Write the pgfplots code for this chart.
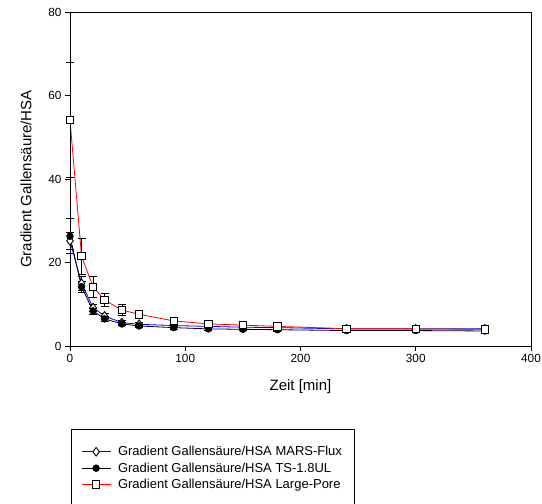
\documentclass[border=0pt]{standalone}
\usepackage{pgfplots}
\pgfplotsset{compat=1.18}
\usepackage{fontspec}
\setmainfont{Liberation Sans}

\begin{document}
\begin{tikzpicture}
\begin{axis}[
    at={(70pt,158pt)}, anchor=south west,
    scale only axis, width=461pt, height=334pt,
    xmin=0, xmax=400, ymin=0, ymax=80,
    xtick={0,100,200,300,400}, ytick={0,20,40,60,80},
    tick pos=left, tick align=outside,
    major tick length=5pt,
    axis line style={line width=0.9pt},
    every tick/.style={black, line width=0.8pt},
    /pgf/number format/assume math mode=true,
    ticklabel style={font=\fontsize{11.8}{13}\selectfont},
    xlabel={Zeit [min]}, ylabel={Gradient Gallensäure/HSA},
    label style={font=\fontsize{15}{16}\selectfont},
    xlabel style={yshift=-10pt},
    ylabel style={yshift=10pt},
    clip=false,
    legend cell align=left,
    legend style={at={(0.002,-0.2485)}, anchor=north west, draw=black, line width=0.6pt,
        font=\fontsize{13}{14}\selectfont, inner xsep=10pt, inner ysep=15pt,
        row sep=1.5pt,
        /tikz/every odd column/.append style={column sep=5pt}},
    legend image code/.code={\draw[mark repeat=2, mark phase=2, #1] plot coordinates {(0pt,0pt) (14.5pt,0pt) (29pt,0pt)};},
    error bars/error bar style={black, line width=0.7pt},
    error bars/error mark options={rotate=90, mark size=4pt, black, line width=0.7pt},
]
% legend images
\addlegendimage{color=blue, line width=0.8pt, mark=diamond*, mark size=4.3pt,
    mark options={fill=white, draw=black, line width=0.9pt}}
\addlegendentry{Gradient Gallensäure/HSA MARS-Flux}
\addlegendimage{color=black, line width=0.8pt, mark=*, mark size=3.3pt, mark options={fill=black}}
\addlegendentry{Gradient Gallensäure/HSA TS-1.8UL}
\addlegendimage{color=red, line width=0.8pt, mark=square*, mark size=3.7pt,
    mark options={fill=white, draw=black, line width=0.9pt}}
\addlegendentry{Gradient Gallensäure/HSA Large-Pore}
% MARS-Flux
\addplot[color=blue, line width=0.8pt, mark=diamond*, mark size=4.3pt,
    mark options={fill=white, draw=black, line width=0.9pt},
    forget plot,
    error bars/.cd, y dir=both, y explicit]
coordinates {
(0,25.2) +- (0,2.0)
(10,15.0) +- (0,1.6)
(20,9.2) +- (0,0.8)
(30,7.2) +- (0,0.6)
(45,5.6) +- (0,0.5)
(60,5.2) +- (0,0.4)
(90,4.9) +- (0,0.3)
(120,4.7) +- (0,0.3)
(150,4.5) +- (0,0.3)
(180,4.4) +- (0,0.3)
(240,4.1) +- (0,0.3)
(300,4.1) +- (0,0.3)
(360,4.1) +- (0,0.3)
};
% TS-1.8UL
\addplot[color=black, line width=0.8pt, mark=*, mark size=3.3pt,
    mark options={fill=black},
    forget plot,
    error bars/.cd, y dir=both, y explicit]
coordinates {
(0,26.3) +- (0,4.2)
(10,14.2) +- (0,1.4)
(20,8.4) +- (0,0.7)
(30,6.5) +- (0,0.5)
(45,5.3) +- (0,0.4)
(60,4.8) +- (0,0.3)
(90,4.4) +- (0,0.3)
(120,4.1) +- (0,0.3)
(150,4.0) +- (0,0.3)
(180,3.9) +- (0,0.3)
(240,3.7) +- (0,0.3)
(300,3.7) +- (0,0.3)
(360,3.6) +- (0,0.3)
};
% Large-Pore
\addplot[color=red, line width=0.8pt, mark=square*, mark size=3.7pt,
    mark options={fill=white, draw=black, line width=0.9pt},
    forget plot,
    error bars/.cd, y dir=both, y explicit]
coordinates {
(0,54.2) +- (0,13.8)
(10,21.5) +- (0,4.4)
(20,14.2) +- (0,2.6)
(30,11.0) +- (0,1.6)
(45,8.6) +- (0,1.3)
(60,7.6) +- (0,0.7)
(90,6.0) +- (0,0.5)
(120,5.3) +- (0,0.4)
(150,5.0) +- (0,0.4)
(180,4.7) +- (0,0.3)
(240,4.15) +- (0,0.3)
(300,4.1) +- (0,0.3)
(360,4.0) +- (0,0.3)
};
\end{axis}
\pgfresetboundingbox
\useasboundingbox (0,0) rectangle (542pt,504pt);
\end{tikzpicture}
\end{document}
